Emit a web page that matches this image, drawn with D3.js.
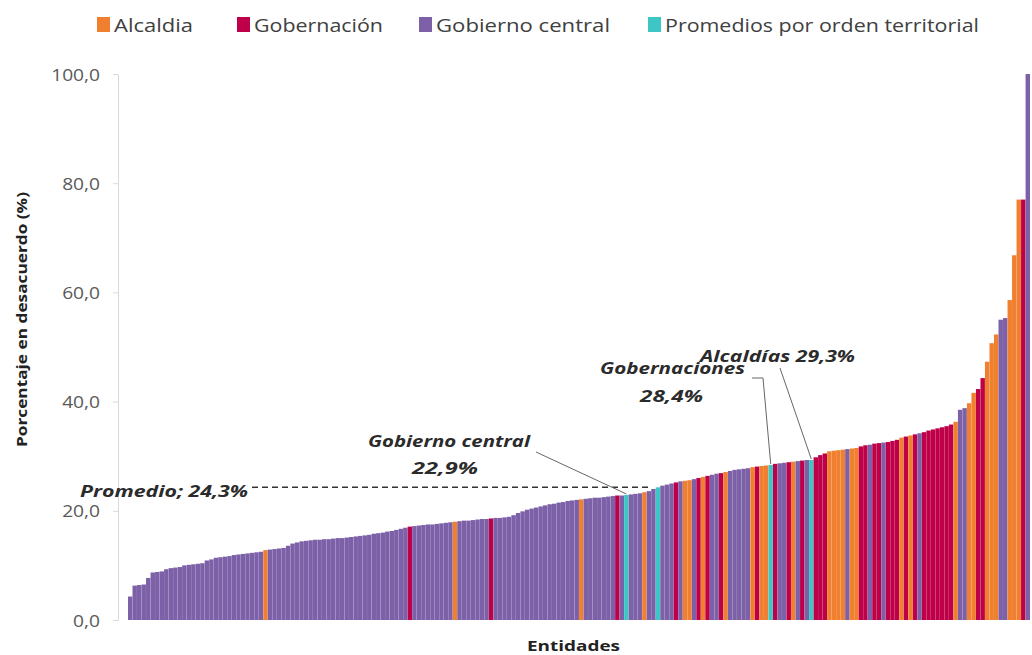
<!DOCTYPE html>
<html><head><meta charset="utf-8">
<script src="https://cdn.jsdelivr.net/npm/d3@7"></script>
<style>body{margin:0;background:#fff}svg{display:block}</style>
</head><body>
<svg id="chart" width="1032" height="655"></svg>
<script>
// ---- DATA ----
// C = Gobierno central, A = Alcaldía, G = Gobernación, P = Promedio por orden territorial
const categories = [
"C","C","C","C","C","C","C","C","C","C","C","C","C","C","C","C","C","C","C","C",
"C","C","C","C","C","C","C","C","C","C","A","C","C","C","C","C","C","C","C","C",
"C","C","C","C","C","C","C","C","C","C","C","C","C","C","C","C","C","C","C","C",
"C","C","G","C","C","C","C","C","C","C","C","C","A","C","C","C","C","C","C","C",
"G","C","C","C","C","C","C","C","C","C","C","C","C","C","C","C","C","C","C","C",
"A","C","C","C","C","C","C","C","G","C","P","C","C","C","A","C","C","P","C","C",
"C","G","C","A","A","C","G","A","G","C","C","G","A","C","C","C","C","C","A","G",
"A","A","P","G","C","C","G","A","C","G","C","P","G","G","G","A","A","A","A","C",
"A","A","G","G","C","G","G","C","G","G","G","A","G","A","G","C","G","G","G","G",
"G","G","G","A","C","C","A","A","G","G","A","A","A","C","C","A","A","A","G","C"
];
const values = [
4.3,6.3,6.4,6.5,7.7,8.7,8.8,8.9,9.3,9.5,9.6,9.7,10.0,10.1,10.2,10.3,10.4,10.9,11.1,11.4,
11.5,11.6,11.7,11.9,12.0,12.1,12.2,12.3,12.4,12.5,12.8,12.9,13.0,13.1,13.2,13.6,14.0,14.2,14.4,14.5,
14.6,14.7,14.7,14.8,14.8,14.9,15.0,15.0,15.1,15.2,15.3,15.4,15.5,15.6,15.8,15.9,16.0,16.2,16.3,16.5,
16.7,16.9,17.1,17.2,17.3,17.4,17.5,17.5,17.6,17.7,17.8,17.9,18.0,18.1,18.2,18.2,18.3,18.4,18.5,18.5,
18.6,18.7,18.7,18.8,18.9,19.2,19.6,19.9,20.2,20.4,20.6,20.8,21.0,21.2,21.3,21.5,21.6,21.8,21.9,22.0,
22.1,22.2,22.3,22.4,22.4,22.5,22.6,22.7,22.8,22.8,22.9,23.0,23.1,23.2,23.4,23.6,24.0,24.3,24.6,24.8,
25.0,25.2,25.4,25.5,25.6,25.8,26.0,26.2,26.4,26.6,26.8,26.9,27.1,27.3,27.5,27.6,27.7,27.8,28.0,28.1,
28.2,28.3,28.4,28.6,28.7,28.8,28.9,29.0,29.1,29.2,29.3,29.3,29.8,30.2,30.5,30.9,31.0,31.1,31.2,31.3,
31.4,31.5,31.8,32.0,32.1,32.3,32.4,32.5,32.6,32.8,33.0,33.4,33.6,33.8,34.0,34.2,34.4,34.7,34.9,35.1,
35.3,35.5,35.8,36.3,38.5,38.8,39.7,41.6,42.3,44.3,47.3,50.7,52.3,55.0,55.3,58.6,66.8,77.0,77.0,100.0
];
const legendKeys = ["A","G","C","P"];
const legendLabels = ["Alcaldia","Gobernación","Gobierno central","Promedios por orden territorial"];
const yTicks = [0,20,40,60,80,100];
const overallAverage = 24.3;
const overallLabel = "Promedio; 24,3%";
const annotationLines = [["Gobierno central","22,9%"],["Gobernaciones","28,4%"],["Alcaldías 29,3%"]];
const annotationValues = [22.9,28.4,29.3];
const annotationBars = [110,142,151];

// ---- STYLE / LAYOUT ----
const colors = {A:"#F07F2F", G:"#BE0049", C:"#7D61A8", P:"#3EC6C4"};
const FONT = "'Open Sans', 'Noto Sans', sans-serif";
const svg = d3.select("#chart");

const x = d3.scaleBand().domain(values.map((d,i)=>i)).range([128,1030]).paddingInner(0.02);
const y = d3.scaleLinear().domain([0,100]).range([620,74]);

// text placed by left edge, fitted to a width (reference text is horizontally stretched)
function ftext(g, str, left, base, width, o){
  const t = g.append("text").attr("x",left).attr("y",base)
    .attr("font-family",FONT).attr("font-size",o.size).attr("fill",o.fill||"#333")
    .attr("textLength",width).attr("lengthAdjust","spacingAndGlyphs").text(str);
  if(o.weight) t.attr("font-weight",o.weight);
  if(o.italic) t.attr("font-style","italic");
  return t;
}

// bars
svg.append("g").selectAll("rect").data(values).join("rect")
  .attr("x",(d,i)=>x(i)).attr("width",x.bandwidth())
  .attr("y",d=>y(d)).attr("height",d=>y(0)-y(d))
  .attr("fill",(d,i)=>colors[categories[i]]);

// y axis
const fmt = v => d3.format(".1f")(v).replace(".",",");
const ax = svg.append("g").attr("transform","translate(118,0)")
  .call(d3.axisLeft(y).tickValues(yTicks).tickSize(5).tickSizeOuter(0).tickFormat(fmt));
ax.select(".domain").attr("stroke","#d9d9d9");
ax.selectAll(".tick line").attr("stroke","#d9d9d9");
ax.selectAll(".tick text").attr("x",null).attr("dy",null)
  .attr("transform",`translate(-18,6) scale(1.2,1)`)
  .attr("font-family",FONT).attr("font-size",16).attr("fill","#595959").attr("text-anchor","end");

// axis titles
svg.append("text").attr("transform","translate(27,447) rotate(-90)")
  .attr("font-family",FONT).attr("font-size",13.5).attr("font-weight","bold").attr("fill","#222")
  .attr("textLength",255).attr("lengthAdjust","spacingAndGlyphs")
  .text("Porcentaje en desacuerdo (%)");
ftext(svg,"Entidades",527,651,93,{size:14.5,weight:"bold",fill:"#222"});

// legend
const legX = [97,237,419,648];
const legW = [79,129,174,314];
legendKeys.forEach((k,i)=>{
  svg.append("rect").attr("x",legX[i]).attr("y",17).attr("width",13).attr("height",15).attr("fill",colors[k]);
  ftext(svg,legendLabels[i],legX[i]+17,32,legW[i],{size:18,fill:"#404040"});
});

// overall average dashed line
svg.append("line").attr("x1",252).attr("x2",x(annotationBars[0]+6)).attr("y1",y(overallAverage)).attr("y2",y(overallAverage))
  .attr("stroke","#333").attr("stroke-width",1.5).attr("stroke-dasharray","6,4");
const AO = {size:16,weight:"bold",italic:true,fill:"#2b2b2b"};
ftext(svg,overallLabel,80,497,168,AO);

// annotations
const ann = svg.append("g");
const tip = i => [x(annotationBars[i])+x.bandwidth()/2, y(annotationValues[i])-1];
ftext(ann,annotationLines[0][0],368,447,162,AO);
ftext(ann,annotationLines[0][1],412,474,66,AO);
ann.append("polyline").attr("points",[[536,452],tip(0)].join(" "))
  .attr("fill","none").attr("stroke","#666").attr("stroke-width",1);
ftext(ann,annotationLines[1][0],600,374,145,AO);
ftext(ann,annotationLines[1][1],640,402,63,AO);
ann.append("polyline").attr("points",[[752,378],[763,378],tip(1)].join(" "))
  .attr("fill","none").attr("stroke","#666").attr("stroke-width",1);
ftext(ann,annotationLines[2][0],700,362,155,AO);
ann.append("polyline").attr("points",[[780,368],tip(2)].join(" "))
  .attr("fill","none").attr("stroke","#666").attr("stroke-width",1);
</script>
</body></html>
